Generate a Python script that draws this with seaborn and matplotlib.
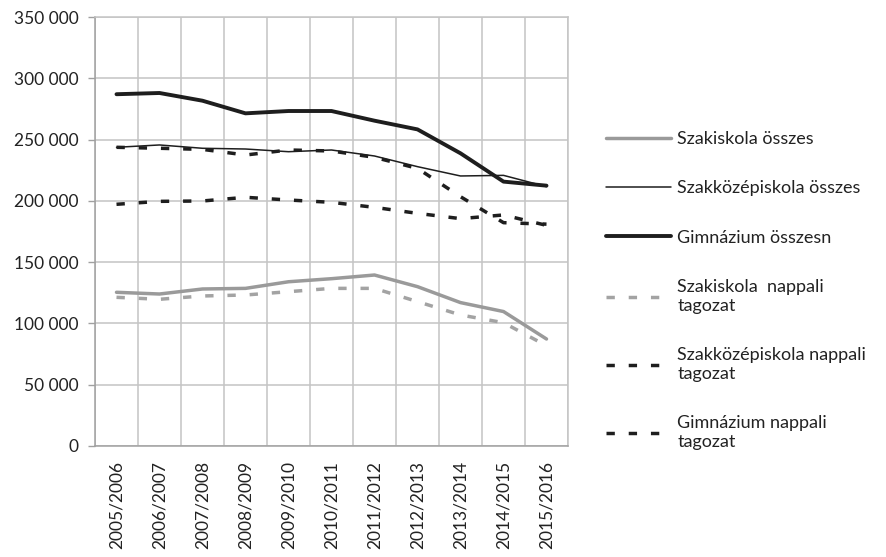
import matplotlib
matplotlib.use("Agg")
import matplotlib.pyplot as plt
import seaborn as sns
import numpy as np
import pandas as pd
from matplotlib.ticker import FuncFormatter, FixedLocator

# Data
years = ["2005/2006", "2006/2007", "2007/2008", "2008/2009", "2009/2010", "2010/2011",
         "2011/2012", "2012/2013", "2013/2014", "2014/2015", "2015/2016"]

szakiskola_osszes = [125400, 124000, 128100, 128600, 134000, 136500, 139500, 130000, 117000, 109700, 87300]
szakkozep_osszes = [243700, 245600, 242900, 242300, 240100, 241500, 236600, 227900, 220300, 220800, 211600]
gimn_osszes = [287000, 288000, 281700, 271400, 273300, 273300, 265400, 258300, 238800, 215700, 212400]
szakiskola_nappali = [121300, 119700, 122400, 123200, 125900, 128600, 128600, 117800, 106900, 100600, 81800]
szakkozep_nappali = [243700, 242900, 242000, 237400, 241500, 240700, 235500, 226500, 203400, 182200, 181000]
gimn_nappali = [197200, 199600, 199900, 202900, 200700, 198800, 194700, 189800, 185500, 188500, 180000]

labels = ["Szakiskola összes", "Szakközépiskola összes", "Gimnázium összesn",
          "Szakiskola  nappali\ntagozat", "Szakközépiskola nappali\ntagozat",
          "Gimnázium nappali\ntagozat"]
series = [szakiskola_osszes, szakkozep_osszes, gimn_osszes,
          szakiskola_nappali, szakkozep_nappali, gimn_nappali]

gray = "#9a9a9a"
black = "#1e1e1e"
styles = [
    dict(color=gray, lw=2.5, dashes=None),
    dict(color=black, lw=1.1, dashes=None),
    dict(color=black, lw=2.8, dashes=None),
    dict(color="#a3a3a3", lw=2.5, dashes=(2.4, 4.0)),
    dict(color=black, lw=2.5, dashes=(2.4, 4.0)),
    dict(color=black, lw=2.5, dashes=(2.4, 4.0)),
]

df = pd.DataFrame({"year": years})
for lab, vals in zip(labels, series):
    df[lab] = vals
df["x"] = np.arange(len(years))

sns.set_theme(style="white")
plt.rcParams["font.family"] = ["Lato", "DejaVu Sans"]
text_color = "#222222"
grid_color = "#c4c4c4"

fig = plt.figure(figsize=(8.86, 5.57), dpi=100)
ax = fig.add_axes([95 / 886, 1 - 446 / 557, (568 - 95) / 886, (446 - 17) / 557])

for lab, st in zip(labels, styles):
    sns.lineplot(data=df, x="x", y=lab, ax=ax, color=st["color"], linewidth=st["lw"],
                 legend=False)
    l = ax.get_lines()[-1]
    l.set_label(lab)
    if st["dashes"] is not None:
        l.set_dashes(st["dashes"])
        l.set_dash_capstyle("butt")

ax.set_xlim(-0.5, len(years) - 0.5)
ax.set_ylim(0, 350000)
ax.set_yticks(np.arange(0, 350001, 50000))
ax.yaxis.set_major_formatter(FuncFormatter(lambda v, p: f"{int(v):,}".replace(",", " ")))
ax.set_xticks(np.arange(len(years)))
ax.set_xticklabels(years, rotation=90)
ax.xaxis.set_minor_locator(FixedLocator(np.arange(-0.5, len(years), 1)))
ax.set_xlabel("")
ax.set_ylabel("")

ax.grid(True, axis="y", color=grid_color, linewidth=1.1)
ax.grid(True, axis="x", which="minor", color=grid_color, linewidth=1.1)
ax.grid(False, axis="x", which="major")
ax.set_axisbelow(True)

ax.tick_params(axis="x", which="major", length=0, pad=11, labelsize=12.5, labelcolor=text_color)
ax.tick_params(axis="x", which="minor", length=5, width=1, color="#a0a0a0", direction="out")
ax.tick_params(axis="y", length=5, width=1, color="#a0a0a0", direction="out", pad=7,
               labelsize=12.5, labelcolor=text_color, left=True)
for s in ax.spines.values():
    s.set_color(grid_color)
    s.set_linewidth(1.1)
ax.spines["left"].set_color("#a0a0a0")
ax.spines["bottom"].set_color("#a0a0a0")

handles = ax.get_lines()
fig.legend(handles=handles, labels=labels, loc="upper left",
           bbox_to_anchor=(606 / 886, 1 - 131 / 557), frameon=False, fontsize=13,
           handlelength=3.6, handletextpad=0.35, labelspacing=1.85, borderpad=0,
           borderaxespad=0, labelcolor=text_color)

fig.savefig("out.png", dpi=100)
